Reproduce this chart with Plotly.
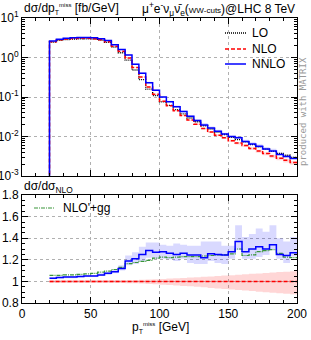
import plotly.graph_objects as go

# ---------------- data ----------------
edges = [20, 25, 30, 35, 40, 45, 50, 55, 60, 65, 70, 75, 80, 85, 90, 95, 100,
         105, 110, 115, 120, 125, 130, 135, 140, 145, 150, 155, 160, 165, 170,
         175, 180, 185, 190, 195, 200]

lo = [2.44, 2.72, 2.84, 2.94, 2.98, 2.97, 2.93, 2.75, 2.41, 1.83, 1.32, 0.854,
      0.482, 0.275, 0.158, 0.108, 0.0757, 0.0612, 0.0477, 0.0374, 0.0294,
      0.0236, 0.0187, 0.0155, 0.01296, 0.01125, 0.00952, 0.00836, 0.00732,
      0.00625, 0.00546, 0.00477, 0.00419, 0.00372, 0.00335, 0.00297]
nlo = [2.52, 2.80, 2.93, 3.03, 3.06, 3.05, 3.00, 2.83, 2.51, 1.93, 1.43, 0.97,
       0.56, 0.32, 0.179, 0.117, 0.078, 0.060, 0.045, 0.034, 0.026, 0.0205,
       0.016, 0.013, 0.0108, 0.0093, 0.0078, 0.0068, 0.0059, 0.0050, 0.0043,
       0.0037, 0.0032, 0.0028, 0.0025, 0.0022]
nnlo = [2.60, 2.90, 3.05, 3.15, 3.20, 3.20, 3.15, 3.00, 2.70, 2.10, 1.60, 1.154,
        0.678, 0.40, 0.230, 0.1486, 0.0995, 0.0756, 0.0563, 0.0428, 0.0324,
        0.0255, 0.0195, 0.0163, 0.0135, 0.0116, 0.00995, 0.00932, 0.00752,
        0.0065, 0.00568, 0.00481, 0.00429, 0.0035, 0.0031, 0.00278]

# ratios to NLO
r_nnlo = [1.03, 1.035, 1.04, 1.04, 1.045, 1.05, 1.05, 1.06, 1.075, 1.09, 1.12,
          1.19, 1.21, 1.25, 1.285, 1.27, 1.275, 1.26, 1.25, 1.26, 1.245, 1.245,
          1.22, 1.255, 1.25, 1.245, 1.275, 1.37, 1.275, 1.30, 1.32, 1.30, 1.34,
          1.25, 1.24, 1.265]
r_nnlo_hi = [1.04, 1.045, 1.05, 1.05, 1.055, 1.06, 1.06, 1.075, 1.09, 1.11, 1.15,
             1.24, 1.27, 1.32, 1.36, 1.36, 1.34, 1.33, 1.35, 1.34, 1.33, 1.33,
             1.37, 1.37, 1.37, 1.33, 1.33, 1.52, 1.41, 1.44, 1.49, 1.46, 1.52,
             1.40, 1.37, 1.41]
r_nnlo_lo = [1.02, 1.025, 1.03, 1.03, 1.035, 1.04, 1.04, 1.05, 1.06, 1.075, 1.10,
             1.15, 1.16, 1.19, 1.22, 1.21, 1.21, 1.205, 1.19, 1.21, 1.17, 1.16,
             1.16, 1.19, 1.17, 1.16, 1.21, 1.29, 1.21, 1.21, 1.225, 1.245, 1.30,
             1.21, 1.17, 1.23]
r_nlo = [1.0] * 36
r_nlo_hi = [1.012, 1.012, 1.012, 1.012, 1.012, 1.012, 1.012, 1.012, 1.012, 1.012,
            1.012, 1.013, 1.014, 1.016, 1.018, 1.02, 1.023, 1.026, 1.029, 1.032,
            1.035, 1.038, 1.042, 1.046, 1.05, 1.054, 1.058, 1.062, 1.066, 1.07,
            1.074, 1.078, 1.082, 1.086, 1.09, 1.095]
r_nlo_lo = [0.985, 0.985, 0.985, 0.985, 0.985, 0.985, 0.985, 0.985, 0.985, 0.985,
            0.985, 0.984, 0.982, 0.98, 0.977, 0.974, 0.97, 0.966, 0.962, 0.958,
            0.954, 0.95, 0.945, 0.94, 0.935, 0.93, 0.925, 0.92, 0.915, 0.91,
            0.905, 0.90, 0.895, 0.89, 0.885, 0.88]
r_nlogg = [1.055, 1.055, 1.06, 1.06, 1.065, 1.07, 1.075, 1.085, 1.095, 1.11, 1.13,
           1.165, 1.175, 1.185, 1.195, 1.215, 1.225, 1.22, 1.225, 1.23, 1.23, 1.23,
           1.235, 1.24, 1.245, 1.245, 1.255, 1.30, 1.24, 1.245, 1.275, 1.285,
           1.295, 1.26, 1.225, 1.22]

xticks = [0, 50, 100, 150, 200]
top_yticks = [1e-3, 1e-2, 1e-1, 1, 10]
top_yticktext = ["10<sup>-3</sup>", "10<sup>-2</sup>", "10<sup>-1</sup>",
                 "10<sup>0</sup>", "10<sup>1</sup>"]
top_yminor = [m * d for d in (1e-3, 1e-2, 1e-1, 1) for m in range(2, 10)]
bot_yticks = [0.8, 1.0, 1.2, 1.4, 1.6, 1.8]
bot_yticktext = ["0.8", "1", "1.2", "1.4", "1.6", "1.8"]

# ---------------- layout helpers ----------------
W, H = 311, 340
L, R, T, B = 22, 14, 18, 37
PW, PH = W - L - R, H - T - B


def px_x(px):
    return (px - L) / PW


def px_y(py):
    return (H - B - py) / PH


top_dom = [px_y(176), 1.0]
bot_dom = [0.0, px_y(195)]

FONT = "Liberation Sans, Arial, sans-serif"


def stepy(v):
    return list(v) + [v[-1]]


def mul(a, b):
    return [x * y for x, y in zip(a, b)]


fig = go.Figure()


def band(xa, ya, lo_v, hi_v, color):
    fig.add_trace(go.Scatter(x=edges, y=stepy(lo_v), mode="lines", line_shape="hv",
                             line=dict(width=0), xaxis=xa, yaxis=ya,
                             showlegend=False, hoverinfo="skip"))
    fig.add_trace(go.Scatter(x=edges, y=stepy(hi_v), mode="lines", line_shape="hv",
                             line=dict(width=0), fill="tonexty", fillcolor=color,
                             xaxis=xa, yaxis=ya, showlegend=False, hoverinfo="skip"))


# ---- top panel bands ----
band("x", "y", mul(nlo, r_nlo_lo), mul(nlo, r_nlo_hi), "rgba(255,0,0,0.15)")
band("x", "y", mul(nlo, r_nnlo_lo), mul(nlo, r_nnlo_hi), "rgba(0,0,255,0.15)")


def topline(vals, color, dash, width):
    fig.add_trace(go.Scatter(x=[edges[0]] + edges, y=[1e-6] + stepy(vals),
                             mode="lines", line_shape="hv",
                             line=dict(color=color, dash=dash, width=width),
                             xaxis="x", yaxis="y", showlegend=False, hoverinfo="skip"))


topline(lo, "black", "1px,1px", 1.3)
topline(nlo, "#ff0000", "4px,2px", 1.5)
topline(nnlo, "#0000ff", "solid", 1.5)

# ---- bottom panel ----
band("x2", "y2", r_nlo_lo, r_nlo_hi, "rgba(255,0,0,0.16)")
band("x2", "y2", r_nnlo_lo, r_nnlo_hi, "rgba(0,0,255,0.15)")


def botline(vals, color, dash, width):
    fig.add_trace(go.Scatter(x=edges, y=stepy(vals), mode="lines", line_shape="hv",
                             line=dict(color=color, dash=dash, width=width),
                             xaxis="x2", yaxis="y2", showlegend=False, hoverinfo="skip"))


botline(r_nlogg, "#3a963a", "4px,1px,1px,1px", 1.2)
botline(r_nlo, "#ff0000", "4px,2px", 1.5)
botline(r_nnlo, "#0000ff", "solid", 1.5)

# ---------------- axes ----------------
axis_common = dict(showline=True, linecolor="black", linewidth=1, mirror="allticks",
                   ticks="inside", ticklen=6, tickcolor="black", automargin=False,
                   showgrid=True, gridcolor="#b0b0b0", griddash="dot", gridwidth=1,
                   zeroline=False, tickfont=dict(family=FONT, size=12, color="black"))

fig.update_layout(
    xaxis=dict(axis_common, domain=[0, 1], range=[0, 200], anchor="y",
               tickvals=xticks, showticklabels=False,
               minor=dict(ticks="inside", ticklen=3, tickvals=list(range(0, 201, 10)),
                          tickcolor="black", showgrid=False)),
    yaxis=dict(axis_common, domain=top_dom, type="log", range=[-3, 1], anchor="x",
               tickvals=top_yticks, ticktext=top_yticktext,
               minor=dict(ticks="inside", ticklen=3, tickvals=top_yminor,
                          tickcolor="black", showgrid=False)),
    xaxis2=dict(axis_common, domain=[0, 1], range=[0, 200], anchor="y2",
                tickvals=xticks,
                minor=dict(ticks="inside", ticklen=3, tickvals=list(range(0, 201, 10)),
                           tickcolor="black", showgrid=False)),
    yaxis2=dict(axis_common, domain=bot_dom, range=[0.8, 1.8], anchor="x2",
                tickvals=bot_yticks, ticktext=bot_yticktext,
                minor=dict(ticks="inside", ticklen=3,
                           tickvals=[0.85, 0.9, 0.95, 1.05, 1.1, 1.15, 1.25, 1.3, 1.35,
                                     1.45, 1.5, 1.55, 1.65, 1.7, 1.75],
                           tickcolor="black", showgrid=False)),
    width=W, height=H,
    margin=dict(l=L, r=R, t=T, b=B, pad=0, autoexpand=False),
    paper_bgcolor="white", plot_bgcolor="white",
    showlegend=False,
    font=dict(family=FONT, size=12, color="black"),
)

ann = []
ann.append(dict(text="dσ/dp<sub><span style='font-size:7px'>T</span></sub>"
                     "<sup><span style='font-size:6px'>miss</span></sup> [fb/GeV]",
                x=px_x(22), y=px_y(9), xanchor="left", yanchor="middle",
                font=dict(size=12)))
ann.append(dict(text="μ<sup>+</sup>e<sup>-</sup>ν<sub>μ</sub>ν̄<sub>e</sub>"
                     "(<span style='font-size:8px'>WW-cuts</span>)@LHC 8 TeV",
                x=px_x(297), y=px_y(9), xanchor="right", yanchor="middle",
                font=dict(size=12)))
ann.append(dict(text="dσ/dσ<sub>NLO</sub>", x=px_x(22), y=px_y(187),
                xanchor="left", yanchor="middle", font=dict(size=12)))
ann.append(dict(text="p<sub><span style='font-size:7px'>T</span></sub>"
                     "<sup><span style='font-size:6px'>miss</span></sup> [GeV]",
                x=px_x(160), y=px_y(327),
                xanchor="center", yanchor="middle", font=dict(size=12)))
ann.append(dict(text="produced with MATRIX", x=px_x(303), y=px_y(112), textangle=-90,
                xanchor="center", yanchor="middle",
                font=dict(family="DejaVu Sans Mono, monospace", size=9, color="#999999")))

shapes = []
leg = [("LO", "black", "1px,1px", 1.3, 33),
       ("NLO", "#ff0000", "4px,2px", 1.5, 49),
       ("NNLO", "#0000ff", "solid", 1.5, 64)]
for name, col, dash, w, py in leg:
    shapes.append(dict(type="line", xref="paper", yref="paper",
                       x0=px_x(225), x1=px_x(246), y0=px_y(py), y1=px_y(py),
                       line=dict(color=col, dash=dash, width=w)))
    ann.append(dict(text=name, x=px_x(250), y=px_y(py), xanchor="left",
                    yanchor="middle", font=dict(size=12)))
shapes.append(dict(type="line", xref="paper", yref="paper",
                   x0=px_x(34), x1=px_x(55), y0=px_y(208), y1=px_y(208),
                   line=dict(color="#3a963a", dash="4px,1px,1px,1px", width=1.2)))
ann.append(dict(text="NLO'+gg", x=px_x(61), y=px_y(208), xanchor="left",
                yanchor="middle", font=dict(size=12)))

for a in ann:
    a.update(xref="paper", yref="paper", showarrow=False)
fig.update_layout(annotations=ann, shapes=shapes)

fig.write_html("out.html",
               config={"displayModeBar": False},
               post_script="document.body.style.margin='0';"
                           "document.body.style.padding='0';"
                           "document.body.style.overflow='hidden';")
